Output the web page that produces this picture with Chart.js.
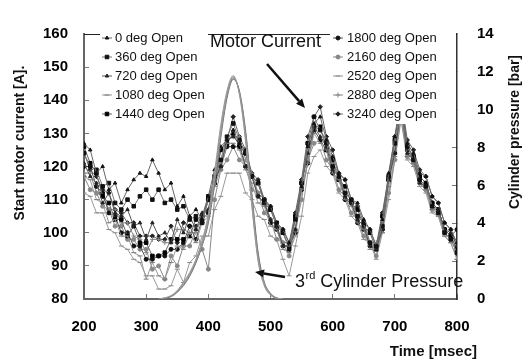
<!DOCTYPE html>
<html>
<head>
<meta charset="utf-8">
<script src="https://cdn.jsdelivr.net/npm/chart.js@4.4.1/dist/chart.umd.min.js"></script>
<style>
  html, body { margin: 0; padding: 0; background: #fff; }
  #wrap { width: 523px; height: 364px; }
</style>
</head>
<body>
<div id="wrap"><canvas id="chart"></canvas></div>
<script>
// sample times of the motor current traces [msec]
const times = [
  200, 210, 220, 230, 240, 250, 260, 270, 280, 290,
  300, 310, 320, 330, 340, 350, 360, 370, 380, 390,
  400, 410, 420, 430, 440, 450, 460, 470, 480, 490,
  500, 510, 520, 530, 540, 550, 560, 570, 580, 590,
  600, 610, 620, 630, 640, 650, 660, 670, 680, 690,
  700, 710, 720, 730, 740, 750, 760, 770, 780, 790, 800
];

const seriesLabels = [
  '0 deg Open', '360 deg Open', '720 deg Open', '1080 deg Open', '1440 deg Open',
  '1800 deg Open', '2160 deg Open', '2520 deg Open', '2880 deg Open', '3240 deg Open'
];

// start motor current [A]
const current0 = [
  127, 125, 118, 120, 113, 115, 109, 113, 116, 118,
  117, 122, 118, 113, 115, 108, 111, 105, 107, 104,
  111, 119, 126, 128, 131, 127, 125, 117, 115, 110,
  108, 103, 101, 97, 104, 114, 126, 133, 135, 128,
  123, 118, 116, 110, 109, 104, 101, 96, 104, 118,
  129, 139, 127, 124, 118, 117, 111, 109, 103, 101, 97
];
const current360 = [
  124, 120, 119, 114, 115, 109, 107, 110, 108, 111,
  113, 110, 113, 109, 110, 107, 108, 104, 105, 103,
  110, 117, 122, 129, 133, 128, 124, 117, 115, 110,
  107, 103, 100, 95, 104, 115, 127, 135, 131, 127,
  120, 117, 112, 110, 105, 103, 97, 96, 102, 117,
  127, 137, 126, 122, 116, 114, 108, 106, 100, 98, 94
];
const current720 = [
  121, 117, 115, 109, 112, 106, 105, 107, 102, 103,
  98, 103, 99, 100, 97, 104, 100, 105, 101, 106,
  107, 116, 120, 128, 129, 127, 120, 117, 111, 109,
  104, 102, 96, 96, 101, 115, 124, 132, 129, 126,
  119, 117, 111, 109, 104, 102, 96, 95, 101, 116,
  124, 138, 124, 122, 115, 114, 108, 107, 101, 100, 96
];
const current1080 = [
  117, 116, 110, 109, 103, 104, 99, 99, 94, 93,
  86, 91, 87, 86, 91, 96, 95, 100, 97, 103,
  105, 114, 119, 127, 127, 125, 119, 115, 109, 108,
  102, 101, 95, 94, 99, 113, 121, 130, 127, 125,
  118, 116, 110, 108, 103, 101, 95, 95, 100, 114,
  123, 136, 123, 121, 115, 113, 107, 105, 99, 97, 92
];
const current1440 = [
  126, 121, 118, 111, 109, 104, 104, 99, 102, 97,
  97, 93, 93, 94, 98, 98, 98, 99, 104, 105,
  111, 115, 125, 127, 130, 126, 124, 117, 115, 109,
  107, 102, 100, 96, 105, 115, 127, 132, 132, 125,
  122, 116, 114, 109, 107, 102, 100, 95, 105, 116,
  128, 140, 126, 123, 117, 115, 109, 107, 101, 99, 95
];
const current1800 = [
  120, 120, 114, 112, 106, 105, 100, 100, 96, 96,
  92, 92, 93, 93, 95, 95, 97, 102, 98, 104,
  106, 115, 120, 126, 126, 126, 120, 117, 111, 109,
  103, 101, 96, 96, 100, 113, 121, 131, 128, 125,
  118, 116, 110, 109, 103, 101, 96, 96, 101, 116,
  124, 137, 125, 122, 116, 114, 109, 107, 101, 99, 101
];
const current2160 = [
  117, 113, 112, 108, 107, 102, 102, 98, 98, 95,
  95, 89, 90, 86, 93, 90, 96, 96, 101, 95,
  89, 110, 119, 122, 126, 122, 120, 113, 112, 106,
  104, 98, 97, 93, 101, 110, 122, 127, 128, 122,
  119, 113, 111, 106, 104, 99, 97, 93, 101, 112,
  122, 135, 123, 121, 115, 113, 107, 106, 100, 98, 94
];
const current2520 = [
  112, 111, 106, 106, 101, 100, 96, 95, 92, 91,
  87, 87, 83, 83, 84, 89, 85, 91, 93, 99,
  99, 107, 111, 118, 118, 118, 112, 110, 105, 104,
  99, 98, 92, 87, 96, 105, 118, 123, 125, 120,
  118, 112, 110, 105, 103, 98, 97, 92, 100, 110,
  122, 134, 122, 120, 114, 112, 106, 105, 99, 97, 92
];
const current2880 = [
  118, 118, 112, 111, 107, 107, 103, 103, 99, 98,
  94, 98, 98, 97, 97, 101, 101, 100, 100, 105,
  107, 116, 121, 128, 129, 129, 122, 118, 112, 110,
  104, 102, 97, 97, 101, 115, 123, 132, 131, 128,
  121, 118, 112, 110, 105, 103, 97, 97, 102, 117,
  125, 139, 126, 123, 117, 115, 109, 107, 101, 99, 95
];
const current3240 = [
  124, 119, 117, 113, 112, 107, 106, 103, 103, 99,
  99, 99, 98, 98, 102, 97, 103, 102, 102, 103,
  110, 116, 125, 128, 135, 129, 125, 118, 116, 110,
  108, 103, 101, 97, 106, 116, 129, 135, 138, 129,
  125, 118, 116, 110, 108, 103, 101, 96, 106, 117,
  129, 141, 128, 125, 119, 117, 111, 109, 103, 101, 96
];

// 3rd cylinder pressure [bar]
const pressureTimes = [320, 330, 340, 350, 360, 370, 380, 390, 400, 410, 420,
  430, 440, 450, 460, 470, 480, 490, 500, 510, 520];
const pressureA = [0, 0.05, 0.15, 0.4, 0.8, 1.3, 2.0, 2.9, 4.2, 6.3, 8.8,
  10.8, 11.7, 10.9, 8.6, 5.2, 2.2, 0.8, 0.25, 0.05, 0];
const pressureB = [0, 0.03, 0.12, 0.35, 0.7, 1.2, 1.9, 2.8, 4.0, 6.0, 8.5,
  10.6, 11.6, 11.0, 8.9, 5.6, 2.5, 0.9, 0.3, 0.06, 0];
const pressureC = [0, 0.06, 0.18, 0.45, 0.9, 1.4, 2.1, 3.1, 4.5, 6.7, 9.2,
  11.0, 11.8, 10.8, 8.3, 4.9, 2.0, 0.7, 0.2, 0.04, 0];
const pressureD = [0, 0.04, 0.14, 0.38, 0.75, 1.25, 1.95, 2.85, 4.1, 6.2, 8.7,
  10.7, 11.65, 10.95, 8.75, 5.4, 2.35, 0.85, 0.28, 0.05, 0];
const pressureE = [0, 0.05, 0.16, 0.42, 0.85, 1.35, 2.05, 3.0, 4.35, 6.5, 9.0,
  10.9, 11.75, 10.85, 8.45, 5.0, 2.1, 0.75, 0.22, 0.04, 0];

const currents = [current0, current360, current720, current1080, current1440,
  current1800, current2160, current2520, current2880, current3240];
const pressures = [pressureA, pressureB, pressureC, pressureD, pressureE];

// marker look per series
const markers = [
  { style: 'triangle', r: 2, color: '#111', line: '#666' },
  { style: 'rect', r: 2.5, color: '#111', line: '#777' },
  { style: 'triangle', r: 2, color: '#222', line: '#555' },
  { style: 'line', r: 2.5, color: '#777', line: '#999' },
  { style: 'rect', r: 2.5, color: '#000', line: '#666' },
  { style: 'circle', r: 2, color: '#111', line: '#555' },
  { style: 'circle', r: 2, color: '#888', line: '#888' },
  { style: 'line', r: 2.5, color: '#888', line: '#999' },
  { style: 'cross', r: 2.5, color: '#888', line: '#888' },
  { style: 'rectRot', r: 2.2, color: '#222', line: '#666' }
];

const FONT = "'Liberation Sans', Arial, sans-serif";
Chart.defaults.font.family = FONT;
Chart.defaults.color = '#000';

const datasets = [];
pressures.forEach((p, i) => {
  datasets.push({
    label: 'pressure' + i,
    yAxisID: 'y2',
    data: pressureTimes.map((t, k) => ({ x: t, y: p[k] })),
    borderColor: i % 2 ? '#777' : '#999',
    borderWidth: 1,
    pointRadius: 0,
    cubicInterpolationMode: 'monotone',
    legendSkip: true
  });
});
currents.forEach((c, i) => {
  const m = markers[i];
  datasets.push({
    label: seriesLabels[i],
    yAxisID: 'y',
    data: times.map((t, k) => ({ x: t, y: c[k] })),
    borderColor: m.line,
    borderWidth: 1,
    pointStyle: m.style,
    pointRadius: m.r,
    pointBackgroundColor: m.color,
    pointBorderColor: m.color,
    pointBorderWidth: 1,
    tension: 0
  });
});

function arrow(ctx, x1, y1, x2, y2) {
  const ang = Math.atan2(y2 - y1, x2 - x1);
  const hl = 9, hw = 4;
  const bx = x2 - hl * Math.cos(ang), by = y2 - hl * Math.sin(ang);
  ctx.beginPath();
  ctx.moveTo(x1, y1);
  ctx.lineTo(bx, by);
  ctx.lineWidth = 2.5;
  ctx.stroke();
  ctx.beginPath();
  ctx.moveTo(x2, y2);
  ctx.lineTo(bx + hw * Math.sin(ang), by - hw * Math.cos(ang));
  ctx.lineTo(bx - hw * Math.sin(ang), by + hw * Math.cos(ang));
  ctx.closePath();
  ctx.fill();
}

const overlay = {
  id: 'overlay',
  afterDatasetsDraw(chart) {
    const { ctx, chartArea: a } = chart;
    ctx.save();
    // top frame line
    ctx.strokeStyle = '#222';
    ctx.lineWidth = 1.2;
    ctx.beginPath();
    ctx.moveTo(a.left, a.top + 0.5);
    ctx.lineTo(a.right, a.top + 0.5);
    ctx.stroke();

    // legend, two columns of five
    const cols = [
      { box: [100, 28, 108, 96], mx: 107, tx: 115 },
      { box: [330, 26, 126, 98], mx: 338, tx: 347 }
    ];
    const rowY = [38, 57, 76, 95, 114];
    const curSets = chart.data.datasets.filter(d => !d.legendSkip);
    cols.forEach((col, ci) => {
      ctx.fillStyle = '#fff';
      ctx.fillRect(...col.box);
      rowY.forEach((y, ri) => {
        const ds = curSets[ci * 5 + ri];
        ctx.strokeStyle = ds.borderColor;
        ctx.lineWidth = 1;
        ctx.beginPath();
        ctx.moveTo(col.mx - 5, y);
        ctx.lineTo(col.mx + 5, y);
        ctx.stroke();
        ctx.fillStyle = ds.pointBackgroundColor;
        ctx.strokeStyle = ds.pointBorderColor;
        Chart.helpers.drawPoint(ctx, { pointStyle: ds.pointStyle, radius: ds.pointRadius, borderWidth: 1, rotation: 0 }, col.mx, y);
        ctx.fillStyle = '#111';
        ctx.font = '13px ' + FONT;
        ctx.textAlign = 'left';
        ctx.textBaseline = 'middle';
        ctx.fillText(ds.label, col.tx, y);
      });
    });

    // annotations
    ctx.fillStyle = '#111';
    ctx.strokeStyle = '#111';
    ctx.textBaseline = 'alphabetic';
    ctx.font = '18px ' + FONT;
    ctx.fillText('Motor Current', 210, 47);
    arrow(ctx, 267, 64, 305, 108);

    let x = 295;
    ctx.font = '18px ' + FONT;
    ctx.fillText('3', x, 287);
    x += ctx.measureText('3').width;
    ctx.font = '11px ' + FONT;
    ctx.fillText('rd', x + 0.5, 279);
    x += ctx.measureText('rd').width + 0.5;
    ctx.font = '18px ' + FONT;
    ctx.fillText(' Cylinder Pressure', x, 287);
    arrow(ctx, 285, 277, 255, 272);

    // axis titles
    ctx.font = 'bold 15px ' + FONT;
    ctx.textAlign = 'right';
    ctx.fillText('Time [msec]', 477, 356);
    ctx.font = 'bold 14px ' + FONT;
    ctx.textAlign = 'center';
    ctx.textBaseline = 'middle';
    ctx.save();
    ctx.translate(20, 143);
    ctx.rotate(-Math.PI / 2);
    ctx.fillText('Start motor current [A].', 0, 0);
    ctx.restore();
    ctx.save();
    ctx.translate(515, 132);
    ctx.rotate(-Math.PI / 2);
    ctx.fillText('Cylinder pressure [bar]', 0, 0);
    ctx.restore();
    ctx.restore();
  }
};

const tickFont = { size: 15, weight: 'bold', family: FONT };

new Chart(document.getElementById('chart'), {
  type: 'line',
  data: { datasets },
  plugins: [overlay],
  options: {
    responsive: true,
    maintainAspectRatio: false,
    animation: false,
    layout: { padding: { top: 15, left: 0, right: 0, bottom: 0 } },
    plugins: { legend: { display: false }, tooltip: { enabled: false } },
    scales: {
      x: {
        type: 'linear',
        min: 200, max: 800,
        ticks: { stepSize: 100, font: tickFont, color: '#000', padding: 24 },
        grid: { drawOnChartArea: false, tickLength: -5, color: '#777' },
        border: { color: '#666', width: 2 },
        afterFit(s) { s.height = 65; }
      },
      y: {
        position: 'left',
        min: 80, max: 160,
        ticks: { stepSize: 10, font: tickFont, color: '#000', padding: 21 },
        grid: { drawOnChartArea: false, tickLength: -5, color: '#777' },
        border: { color: '#666', width: 2 },
        afterFit(s) { s.width = 84; }
      },
      y2: {
        position: 'right',
        min: 0, max: 14,
        ticks: { stepSize: 2, font: tickFont, color: '#000', padding: 25 },
        grid: { drawOnChartArea: false, tickLength: -5, color: '#777' },
        border: { color: '#333', width: 1.5 },
        afterFit(s) { s.width = 66; }
      }
    }
  }
});
</script>
</body>
</html>
